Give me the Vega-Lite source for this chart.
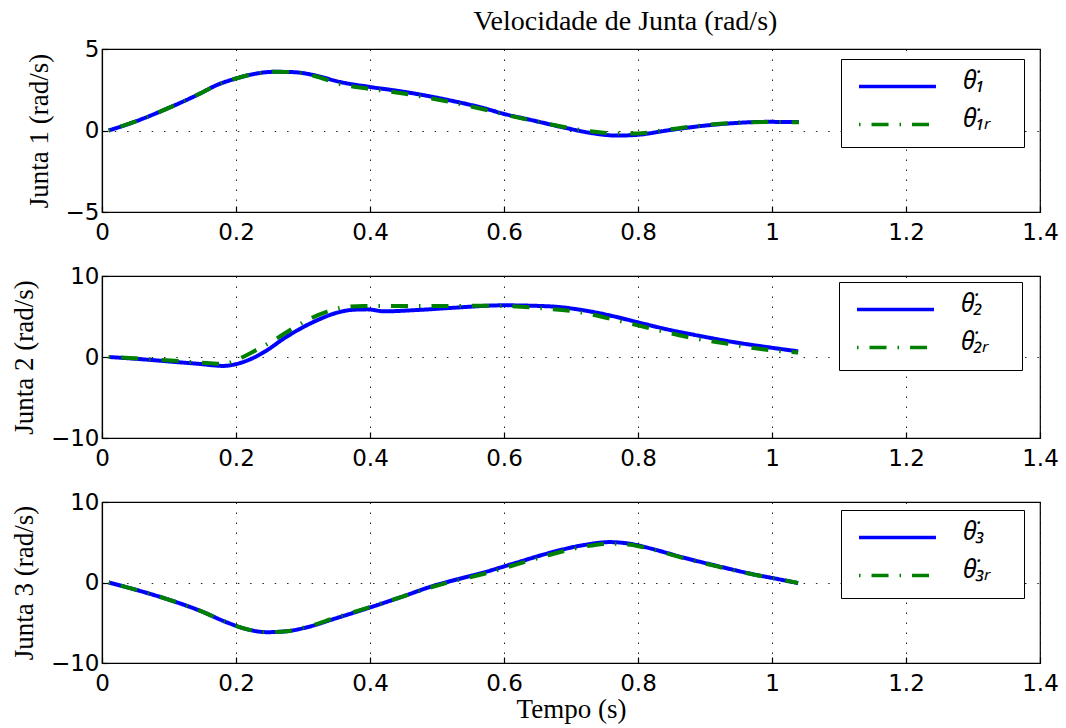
{
  "$schema": "https://vega.github.io/schema/vega-lite/v6.json",
  "background": "white",
  "padding": {"left": 9, "top": 8, "right": 5, "bottom": 5},
  "title": {"text": "Velocidade de Junta (rad/s)", "font": "Liberation Serif", "fontSize": 28, "fontWeight": "normal", "color": "black", "anchor": "middle", "offset": 1, "dx": 91},
  "spacing": 64,
  "bounds": "flush",
  "config": {
    "view": {"stroke": "black", "strokeWidth": 1.2},
    "axis": {"domainColor": "black", "domainWidth": 1.2, "tickColor": "black", "tickSize": -6, "tickWidth": 1.2, "gridColor": "black", "gridOpacity": 0.85, "labelFont": "DejaVu Sans", "labelFontSize": 23, "labelColor": "black", "labelFlush": false, "labelOverlap": false, "titleFont": "Liberation Serif", "titleFontSize": 27, "titleFontWeight": "normal", "titleColor": "black"},
    "axisX": {"gridDash": [1.5, 8.5], "labelPadding": 15},
    "axisY": {"gridDash": [1.5, 10.8], "labelPadding": 9, "titlePadding": 12},
    "legend": {"titleOrient": "right", "titlePadding": 16, "titleFontSize": 2, "titleOpacity": 0, "symbolType": "M-4,0H4", "symbolSize": 370, "symbolStrokeWidth": 3.5, "strokeColor": "black", "fillColor": "white", "padding": 15, "symbolOffset": 29, "labelOffset": 53, "labelFont": "Noto Sans", "labelFontStyle": "italic", "labelFontSize": 25, "labelColor": "black", "labelBaseline": "middle", "rowPadding": 12, "labelLimit": 300}
  },
  "datasets": {
    "vel": [
      {"j": 1, "s": "q", "t": 0.01, "v": 0},
      {"j": 1, "s": "q", "t": 0.047, "v": 0.51},
      {"j": 1, "s": "q", "t": 0.097, "v": 1.34},
      {"j": 1, "s": "q", "t": 0.146, "v": 2.26},
      {"j": 1, "s": "q", "t": 0.171, "v": 2.78},
      {"j": 1, "s": "q", "t": 0.2, "v": 3.19},
      {"j": 1, "s": "q", "t": 0.226, "v": 3.46},
      {"j": 1, "s": "q", "t": 0.256, "v": 3.6},
      {"j": 1, "s": "q", "t": 0.286, "v": 3.58},
      {"j": 1, "s": "q", "t": 0.316, "v": 3.4},
      {"j": 1, "s": "q", "t": 0.355, "v": 2.98},
      {"j": 1, "s": "q", "t": 0.4, "v": 2.67},
      {"j": 1, "s": "q", "t": 0.445, "v": 2.41},
      {"j": 1, "s": "q", "t": 0.494, "v": 2.06},
      {"j": 1, "s": "q", "t": 0.519, "v": 1.85},
      {"j": 1, "s": "q", "t": 0.569, "v": 1.38},
      {"j": 1, "s": "q", "t": 0.599, "v": 1.03},
      {"j": 1, "s": "q", "t": 0.643, "v": 0.62},
      {"j": 1, "s": "q", "t": 0.694, "v": 0.14},
      {"j": 1, "s": "q", "t": 0.728, "v": -0.14},
      {"j": 1, "s": "q", "t": 0.768, "v": -0.31},
      {"j": 1, "s": "q", "t": 0.798, "v": -0.27},
      {"j": 1, "s": "q", "t": 0.843, "v": 0},
      {"j": 1, "s": "q", "t": 0.893, "v": 0.27},
      {"j": 1, "s": "q", "t": 0.942, "v": 0.45},
      {"j": 1, "s": "q", "t": 0.992, "v": 0.53},
      {"j": 1, "s": "q", "t": 1.04, "v": 0.52},

      {"j": 1, "s": "r", "t": 0.01, "v": 0},
      {"j": 1, "s": "r", "t": 0.047, "v": 0.51},
      {"j": 1, "s": "r", "t": 0.097, "v": 1.34},
      {"j": 1, "s": "r", "t": 0.146, "v": 2.26},
      {"j": 1, "s": "r", "t": 0.171, "v": 2.78},
      {"j": 1, "s": "r", "t": 0.2, "v": 3.19},
      {"j": 1, "s": "r", "t": 0.226, "v": 3.46},
      {"j": 1, "s": "r", "t": 0.256, "v": 3.6},
      {"j": 1, "s": "r", "t": 0.286, "v": 3.58},
      {"j": 1, "s": "r", "t": 0.316, "v": 3.36},
      {"j": 1, "s": "r", "t": 0.355, "v": 2.85},
      {"j": 1, "s": "r", "t": 0.4, "v": 2.55},
      {"j": 1, "s": "r", "t": 0.445, "v": 2.3},
      {"j": 1, "s": "r", "t": 0.494, "v": 1.95},
      {"j": 1, "s": "r", "t": 0.519, "v": 1.75},
      {"j": 1, "s": "r", "t": 0.569, "v": 1.3},
      {"j": 1, "s": "r", "t": 0.599, "v": 1.0},
      {"j": 1, "s": "r", "t": 0.643, "v": 0.6},
      {"j": 1, "s": "r", "t": 0.694, "v": 0.18},
      {"j": 1, "s": "r", "t": 0.728, "v": -0.05},
      {"j": 1, "s": "r", "t": 0.768, "v": -0.18},
      {"j": 1, "s": "r", "t": 0.798, "v": -0.18},
      {"j": 1, "s": "r", "t": 0.843, "v": 0.05},
      {"j": 1, "s": "r", "t": 0.893, "v": 0.3},
      {"j": 1, "s": "r", "t": 0.942, "v": 0.47},
      {"j": 1, "s": "r", "t": 0.992, "v": 0.52},
      {"j": 1, "s": "r", "t": 1.04, "v": 0.5},

      {"j": 2, "s": "q", "t": 0.01, "v": 0},
      {"j": 2, "s": "q", "t": 0.047, "v": -0.2},
      {"j": 2, "s": "q", "t": 0.097, "v": -0.53},
      {"j": 2, "s": "q", "t": 0.146, "v": -0.86},
      {"j": 2, "s": "q", "t": 0.181, "v": -1.1},
      {"j": 2, "s": "q", "t": 0.196, "v": -0.95},
      {"j": 2, "s": "q", "t": 0.221, "v": -0.29},
      {"j": 2, "s": "q", "t": 0.246, "v": 0.82},
      {"j": 2, "s": "q", "t": 0.271, "v": 2.26},
      {"j": 2, "s": "q", "t": 0.296, "v": 3.5},
      {"j": 2, "s": "q", "t": 0.321, "v": 4.53},
      {"j": 2, "s": "q", "t": 0.346, "v": 5.35},
      {"j": 2, "s": "q", "t": 0.376, "v": 5.84},
      {"j": 2, "s": "q", "t": 0.396, "v": 5.88},
      {"j": 2, "s": "q", "t": 0.421, "v": 5.64},
      {"j": 2, "s": "q", "t": 0.47, "v": 5.8},
      {"j": 2, "s": "q", "t": 0.519, "v": 6.05},
      {"j": 2, "s": "q", "t": 0.599, "v": 6.38},
      {"j": 2, "s": "q", "t": 0.669, "v": 6.25},
      {"j": 2, "s": "q", "t": 0.719, "v": 5.76},
      {"j": 2, "s": "q", "t": 0.768, "v": 4.94},
      {"j": 2, "s": "q", "t": 0.798, "v": 4.32},
      {"j": 2, "s": "q", "t": 0.843, "v": 3.42},
      {"j": 2, "s": "q", "t": 0.893, "v": 2.59},
      {"j": 2, "s": "q", "t": 0.942, "v": 1.85},
      {"j": 2, "s": "q", "t": 0.992, "v": 1.23},
      {"j": 2, "s": "q", "t": 1.039, "v": 0.7},

      {"j": 2, "s": "r", "t": 0.01, "v": 0},
      {"j": 2, "s": "r", "t": 0.047, "v": -0.15},
      {"j": 2, "s": "r", "t": 0.097, "v": -0.4},
      {"j": 2, "s": "r", "t": 0.146, "v": -0.7},
      {"j": 2, "s": "r", "t": 0.181, "v": -0.85},
      {"j": 2, "s": "r", "t": 0.206, "v": -0.15},
      {"j": 2, "s": "r", "t": 0.231, "v": 0.9},
      {"j": 2, "s": "r", "t": 0.261, "v": 2.3},
      {"j": 2, "s": "r", "t": 0.286, "v": 3.6},
      {"j": 2, "s": "r", "t": 0.311, "v": 4.75},
      {"j": 2, "s": "r", "t": 0.336, "v": 5.6},
      {"j": 2, "s": "r", "t": 0.361, "v": 6.15},
      {"j": 2, "s": "r", "t": 0.39, "v": 6.3},
      {"j": 2, "s": "r", "t": 0.42, "v": 6.3},
      {"j": 2, "s": "r", "t": 0.47, "v": 6.3},
      {"j": 2, "s": "r", "t": 0.52, "v": 6.3},
      {"j": 2, "s": "r", "t": 0.57, "v": 6.32},
      {"j": 2, "s": "r", "t": 0.6, "v": 6.3},
      {"j": 2, "s": "r", "t": 0.659, "v": 6.0},
      {"j": 2, "s": "r", "t": 0.717, "v": 5.47},
      {"j": 2, "s": "r", "t": 0.768, "v": 4.53},
      {"j": 2, "s": "r", "t": 0.82, "v": 3.5},
      {"j": 2, "s": "r", "t": 0.874, "v": 2.47},
      {"j": 2, "s": "r", "t": 0.932, "v": 1.65},
      {"j": 2, "s": "r", "t": 0.986, "v": 0.95},
      {"j": 2, "s": "r", "t": 1.039, "v": 0.55},

      {"j": 3, "s": "q", "t": 0.01, "v": 0},
      {"j": 3, "s": "q", "t": 0.047, "v": -0.82},
      {"j": 3, "s": "q", "t": 0.097, "v": -2.06},
      {"j": 3, "s": "q", "t": 0.146, "v": -3.5},
      {"j": 3, "s": "q", "t": 0.186, "v": -4.94},
      {"j": 3, "s": "q", "t": 0.211, "v": -5.68},
      {"j": 3, "s": "q", "t": 0.246, "v": -6.17},
      {"j": 3, "s": "q", "t": 0.276, "v": -6.05},
      {"j": 3, "s": "q", "t": 0.306, "v": -5.56},
      {"j": 3, "s": "q", "t": 0.346, "v": -4.53},
      {"j": 3, "s": "q", "t": 0.396, "v": -3.21},
      {"j": 3, "s": "q", "t": 0.445, "v": -1.85},
      {"j": 3, "s": "q", "t": 0.495, "v": -0.41},
      {"j": 3, "s": "q", "t": 0.519, "v": 0.15},
      {"j": 3, "s": "q", "t": 0.569, "v": 1.23},
      {"j": 3, "s": "q", "t": 0.619, "v": 2.47},
      {"j": 3, "s": "q", "t": 0.669, "v": 3.7},
      {"j": 3, "s": "q", "t": 0.719, "v": 4.65},
      {"j": 3, "s": "q", "t": 0.758, "v": 5.02},
      {"j": 3, "s": "q", "t": 0.788, "v": 4.81},
      {"j": 3, "s": "q", "t": 0.818, "v": 4.24},
      {"j": 3, "s": "q", "t": 0.868, "v": 3.09},
      {"j": 3, "s": "q", "t": 0.918, "v": 2.06},
      {"j": 3, "s": "q", "t": 0.967, "v": 1.11},
      {"j": 3, "s": "q", "t": 1.017, "v": 0.29},
      {"j": 3, "s": "q", "t": 1.039, "v": -0.08},

      {"j": 3, "s": "r", "t": 0.01, "v": 0},
      {"j": 3, "s": "r", "t": 0.047, "v": -0.82},
      {"j": 3, "s": "r", "t": 0.097, "v": -2.06},
      {"j": 3, "s": "r", "t": 0.146, "v": -3.5},
      {"j": 3, "s": "r", "t": 0.186, "v": -4.94},
      {"j": 3, "s": "r", "t": 0.211, "v": -5.68},
      {"j": 3, "s": "r", "t": 0.246, "v": -6.17},
      {"j": 3, "s": "r", "t": 0.276, "v": -6.05},
      {"j": 3, "s": "r", "t": 0.306, "v": -5.5},
      {"j": 3, "s": "r", "t": 0.346, "v": -4.45},
      {"j": 3, "s": "r", "t": 0.396, "v": -3.15},
      {"j": 3, "s": "r", "t": 0.445, "v": -1.85},
      {"j": 3, "s": "r", "t": 0.495, "v": -0.5},
      {"j": 3, "s": "r", "t": 0.519, "v": 0.05},
      {"j": 3, "s": "r", "t": 0.569, "v": 1.05},
      {"j": 3, "s": "r", "t": 0.619, "v": 2.25},
      {"j": 3, "s": "r", "t": 0.669, "v": 3.45},
      {"j": 3, "s": "r", "t": 0.719, "v": 4.45},
      {"j": 3, "s": "r", "t": 0.758, "v": 4.82},
      {"j": 3, "s": "r", "t": 0.788, "v": 4.7},
      {"j": 3, "s": "r", "t": 0.818, "v": 4.18},
      {"j": 3, "s": "r", "t": 0.868, "v": 3.02},
      {"j": 3, "s": "r", "t": 0.918, "v": 2.0},
      {"j": 3, "s": "r", "t": 0.967, "v": 1.08},
      {"j": 3, "s": "r", "t": 1.017, "v": 0.3},
      {"j": 3, "s": "r", "t": 1.039, "v": -0.05}
    ]
  },
  "resolve": {"scale": {"color": "independent", "strokeDash": "independent"}, "legend": {"color": "independent", "strokeDash": "independent"}},
  "vconcat": [
    {
      "width": 938, "height": 163,
      "data": {"name": "vel"},
      "transform": [{"filter": "datum.j == 1"}],
      "mark": {"type": "line", "strokeWidth": 4, "interpolate": "monotone"},
      "encoding": {
        "x": {"field": "t", "type": "quantitative", "scale": {"domain": [0, 1.4], "nice": false}, "axis": {"values": [0, 0.2, 0.4, 0.6, 0.8, 1, 1.2, 1.4], "format": "~g", "title": null}},
        "y": {"field": "v", "type": "quantitative", "scale": {"domain": [-5, 5], "nice": false}, "axis": {"values": [-5, 0, 5], "title": "Junta 1 (rad/s)"}},
        "color": {"field": "s", "type": "nominal", "scale": {"domain": ["q", "r"], "range": ["#0000ff", "#008000"]},
          "legend": {"orient": "none", "legendX": 739, "legendY": 10, "title": ".", "labelExpr": "datum.value == 'q' ? 'θ̇₁' : 'θ̇₁ᵣ'", "encode": {"labels": {"update": {"dy": {"value": -6}}}}}},
        "strokeDash": {"field": "s", "type": "nominal", "scale": {"domain": ["q", "r"], "range": [[1, 0], [1.5, 11, 17, 11]]},
          "legend": {"orient": "none", "legendX": 739, "legendY": 10, "title": ".", "labelExpr": "datum.value == 'q' ? 'θ̇₁' : 'θ̇₁ᵣ'", "encode": {"labels": {"update": {"dy": {"value": -6}}}}}}
      }
    },
    {
      "width": 938, "height": 162,
      "data": {"name": "vel"},
      "transform": [{"filter": "datum.j == 2"}],
      "mark": {"type": "line", "strokeWidth": 4, "interpolate": "monotone"},
      "encoding": {
        "x": {"field": "t", "type": "quantitative", "scale": {"domain": [0, 1.4], "nice": false}, "axis": {"values": [0, 0.2, 0.4, 0.6, 0.8, 1, 1.2, 1.4], "format": "~g", "title": null}},
        "y": {"field": "v", "type": "quantitative", "scale": {"domain": [-10, 10], "nice": false}, "axis": {"values": [-10, 0, 10], "title": "Junta 2 (rad/s)"}},
        "color": {"field": "s", "type": "nominal", "scale": {"domain": ["q", "r"], "range": ["#0000ff", "#008000"]},
          "legend": {"orient": "none", "legendX": 737, "legendY": 6, "title": ".", "labelExpr": "datum.value == 'q' ? 'θ̇₂' : 'θ̇₂ᵣ'", "encode": {"labels": {"update": {"dy": {"value": -6}}}}}},
        "strokeDash": {"field": "s", "type": "nominal", "scale": {"domain": ["q", "r"], "range": [[1, 0], [1.5, 11, 17, 11]]},
          "legend": {"orient": "none", "legendX": 737, "legendY": 6, "title": ".", "labelExpr": "datum.value == 'q' ? 'θ̇₂' : 'θ̇₂ᵣ'", "encode": {"labels": {"update": {"dy": {"value": -6}}}}}}
      }
    },
    {
      "width": 938, "height": 161,
      "data": {"name": "vel"},
      "transform": [{"filter": "datum.j == 3"}],
      "mark": {"type": "line", "strokeWidth": 4, "interpolate": "monotone"},
      "encoding": {
        "x": {"field": "t", "type": "quantitative", "scale": {"domain": [0, 1.4], "nice": false}, "axis": {"values": [0, 0.2, 0.4, 0.6, 0.8, 1, 1.2, 1.4], "format": "~g", "title": "Tempo (s)", "titlePadding": 1}},
        "y": {"field": "v", "type": "quantitative", "scale": {"domain": [-10, 10], "nice": false}, "axis": {"values": [-10, 0, 10], "title": "Junta 3 (rad/s)"}},
        "color": {"field": "s", "type": "nominal", "scale": {"domain": ["q", "r"], "range": ["#0000ff", "#008000"]},
          "legend": {"orient": "none", "legendX": 739, "legendY": 8, "title": ".", "labelExpr": "datum.value == 'q' ? 'θ̇₃' : 'θ̇₃ᵣ'", "encode": {"labels": {"update": {"dy": {"value": -6}}}}}},
        "strokeDash": {"field": "s", "type": "nominal", "scale": {"domain": ["q", "r"], "range": [[1, 0], [1.5, 11, 17, 11]]},
          "legend": {"orient": "none", "legendX": 739, "legendY": 8, "title": ".", "labelExpr": "datum.value == 'q' ? 'θ̇₃' : 'θ̇₃ᵣ'", "encode": {"labels": {"update": {"dy": {"value": -6}}}}}}
      }
    }
  ]
}
